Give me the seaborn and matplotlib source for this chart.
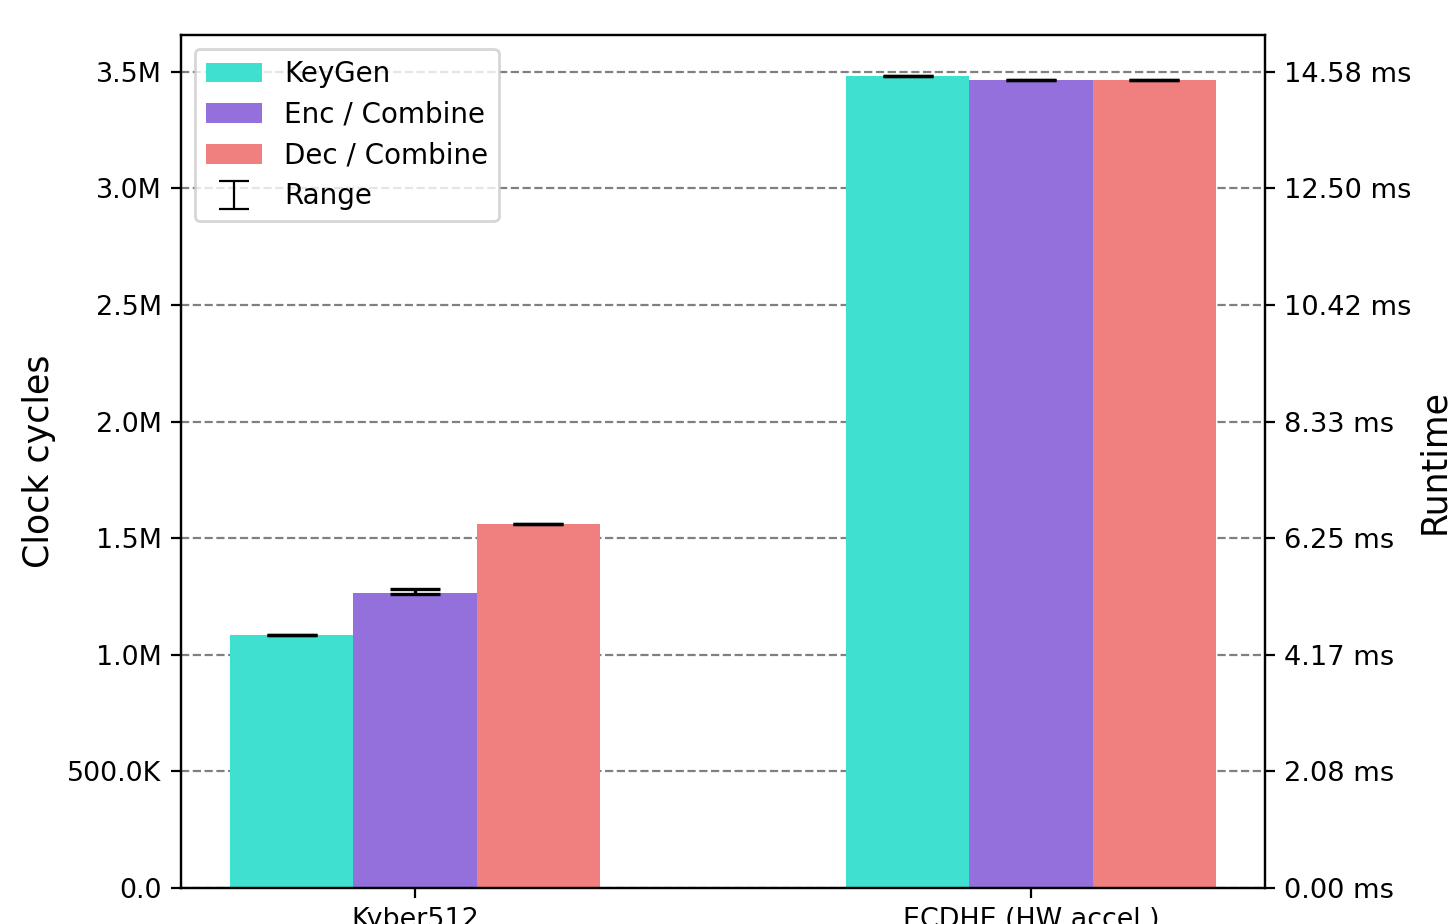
import numpy as np
import pandas as pd
import matplotlib
matplotlib.use("Agg")
import matplotlib.pyplot as plt
import seaborn as sns
from matplotlib.ticker import FuncFormatter

# Benchmark results (clock cycles) for each scheme
schemes = ["Kyber512", "ECDHE (HW accel.)"]
operations = ["KeyGen", "Enc / Combine", "Dec / Combine"]

keygen_mean = [1.084e6, 3.483e6]
enc_mean = [1.264e6, 3.466e6]
dec_mean = [1.5595e6, 3.466e6]

keygen_min = [1.0835e6, 3.4825e6]
keygen_max = [1.0845e6, 3.4835e6]
enc_min = [1.261e6, 3.4655e6]
enc_max = [1.284e6, 3.4665e6]
dec_min = [1.559e6, 3.4655e6]
dec_max = [1.560e6, 3.4665e6]

colors = ["turquoise", "mediumpurple", "lightcoral"]
cpu_hz = 240e6

means = [keygen_mean, enc_mean, dec_mean]
mins = [keygen_min, enc_min, dec_min]
maxs = [keygen_max, enc_max, dec_max]

rows = []
for op, m in zip(operations, means):
    for s, v in zip(schemes, m):
        rows.append({"scheme": s, "operation": op, "cycles": v})
df = pd.DataFrame(rows)

fig = plt.figure(figsize=(1453 / 200, 924 / 200), dpi=200)
ax = fig.add_axes([181 / 1453, 36 / 924, (1265 - 181) / 1453, (888 - 35) / 924])

sns.barplot(data=df, x="scheme", y="cycles", hue="operation",
            order=schemes, hue_order=operations, palette=colors,
            width=0.6, errorbar=None, saturation=1.0, ax=ax)

# min/max range whiskers on top of each bar
for container, lo, hi, m in zip(ax.containers, mins, maxs, means):
    xs = [b.get_x() + b.get_width() / 2 for b in container]
    ys = np.array(m)
    yerr = np.vstack([ys - np.array(lo), np.array(hi) - ys])
    ax.errorbar(xs, ys, yerr=yerr, fmt="none", ecolor="black",
                elinewidth=1.2, capsize=9, capthick=1.2, zorder=3)

# legend entry for the whiskers (a proxy with no visible data)
ax.errorbar([np.nan], [np.nan], yerr=[[np.nan], [np.nan]], fmt="none",
            ecolor="black", elinewidth=0.8, capsize=5.4, capthick=0.8,
            label="Range")

ax.set_xlim(-0.38, 1.38)
ax.set_ylim(0, max(max(v) for v in maxs) * 1.05)
ax.set_axisbelow(True)
ax.grid(axis="y", linestyle="--", color="gray", linewidth=0.8)
ax.grid(axis="x", visible=False)


def fmt_cycles(x, pos):
    if abs(x) >= 1e6:
        return f"{x / 1e6:.1f}M"
    if abs(x) >= 1e3:
        return f"{x / 1e3:.1f}K"
    return f"{x:.1f}"


ax.yaxis.set_major_formatter(FuncFormatter(fmt_cycles))
ax.set_xlabel("")
ax.set_ylabel("Clock cycles", fontsize=12.5)
ax.tick_params(labelsize=9.7)

ax2 = ax.twinx()
ax2.set_ylim(ax.get_ylim())
ticks = [t for t in ax.get_yticks() if ax.get_ylim()[0] <= t <= ax.get_ylim()[1]]
ax2.set_yticks(ticks)
ax2.set_yticklabels([f"{t / cpu_hz * 1e3:.2f} ms" for t in ticks])
ax2.set_ylabel("Runtime", fontsize=12.5, labelpad=2)
ax2.tick_params(labelsize=9.8)

handles, labels = ax.get_legend_handles_labels()
ax.legend(handles, labels, loc="upper left", fontsize=10, labelspacing=0.46)

fig.savefig("out.png", dpi=200)
